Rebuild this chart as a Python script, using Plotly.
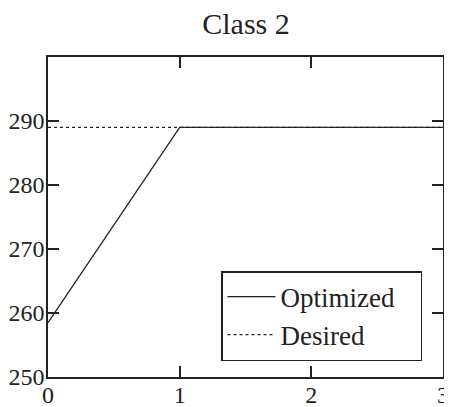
import plotly.graph_objects as go

# data
t_opt = [0, 1, 3]
y_opt = [258.5, 289, 289]
t_des = [0, 3]
y_des = [289, 289]

x_ticks = [0, 1, 2, 3]
y_ticks = [250, 260, 270, 280, 290]

FONT = "Liberation Serif, Times New Roman, serif"
INK = "#222"

fig = go.Figure()
fig.add_trace(
    go.Scatter(x=t_opt, y=y_opt, mode="lines", name="Optimized\u00a0\u00a0\u00a0",
               line=dict(color=INK, width=1.3))
)
fig.add_trace(
    go.Scatter(x=t_des, y=y_des, mode="lines", name="Desired",
               line=dict(color=INK, width=1.3, dash="dot"))
)

axis_common = dict(
    showgrid=False,
    zeroline=False,
    showline=True,
    linecolor=INK,
    linewidth=1.5,
    mirror="ticks",
    ticks="inside",
    ticklen=11,
    tickwidth=1.5,
    tickcolor=INK,
    automargin=False,
    tickfont=dict(family=FONT, size=24, color=INK),
)

# page body has an 8px margin, so the figure is sized to the visible area
fig.update_layout(
    width=444,
    height=399,
    title=dict(text="Class 2", x=0.536, xanchor="center", y=0.962, yanchor="middle",
               font=dict(family=FONT, size=30, color=INK)),
    plot_bgcolor="white",
    paper_bgcolor="white",
    margin=dict(l=40, r=9, t=49, b=30),
    xaxis=dict(range=[0, 3], tickvals=x_ticks, ticklabelstandoff=-5, **axis_common),
    yaxis=dict(range=[250, 300], tickvals=y_ticks, ticklabelstandoff=-3, **axis_common),
    legend=dict(
        x=0.438, y=0.05, xanchor="left", yanchor="bottom",
        bordercolor=INK, borderwidth=1.5, bgcolor="white",
        font=dict(family=FONT, size=27, color=INK),
        itemwidth=48, tracegroupgap=0,
    ),
    showlegend=True,
)

fig.write_html("out.html")
